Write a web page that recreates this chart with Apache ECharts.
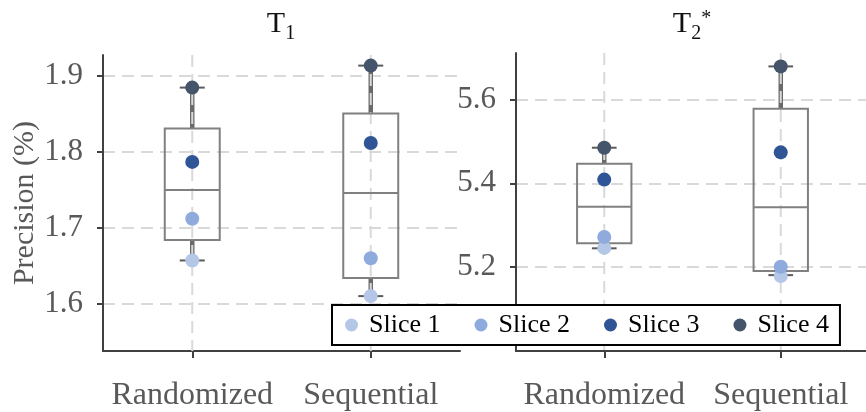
<!DOCTYPE html>
<html>
<head>
<meta charset="utf-8">
<script src="https://cdn.jsdelivr.net/npm/echarts@6/dist/echarts.min.js"></script>
<style>html,body{margin:0;padding:0;background:#fff}#c{width:866px;height:412px}</style>
</head>
<body>
<div id="c"></div>
<script>
const categories = ['Randomized', 'Sequential'];
const sliceNames = ['Slice 1', 'Slice 2', 'Slice 3', 'Slice 4'];
// T1 slice values (Randomized, Sequential)
const t1Slice1 = [1.657, 1.610];
const t1Slice2 = [1.712, 1.660];
const t1Slice3 = [1.787, 1.812];
const t1Slice4 = [1.885, 1.914];
// T2* slice values
const t2Slice1 = [5.246, 5.179];
const t2Slice2 = [5.272, 5.201];
const t2Slice3 = [5.409, 5.474];
const t2Slice4 = [5.485, 5.679];
// box stats: [min, q1, median, q3, max]
const t1BoxRandomized = [1.657, 1.684, 1.750, 1.831, 1.885];
const t1BoxSequential = [1.610, 1.634, 1.746, 1.851, 1.914];
const t2BoxRandomized = [5.245, 5.257, 5.344, 5.447, 5.485];
const t2BoxSequential = [5.181, 5.191, 5.343, 5.578, 5.679];
// tick labels
const t1Ticks = [1.6, 1.7, 1.8, 1.9];
const t2Ticks = [5.2, 5.4, 5.6];

const FONT = 'Liberation Serif';
const sliceColors = ['#B4C7E7', '#8FAADC', '#2F5597', '#44546A'];
const axisColor = '#404040';
const labelColor = '#595959';
const gridColor = '#d9d9d9';

function boxRender(params, api) {
  const x = api.value(0);
  const vMin = api.value(1), q1 = api.value(2), med = api.value(3), q3 = api.value(4), vMax = api.value(5);
  const pMin = api.coord([x, vMin]);
  const pQ1 = api.coord([x, q1]);
  const pMed = api.coord([x, med]);
  const pQ3 = api.coord([x, q3]);
  const pMax = api.coord([x, vMax]);
  const band = api.size([1, 0])[0];
  const bw = band * 0.308;
  const cw = band * 0.14;
  const cx = pMed[0];
  const cs = params.coordSys;
  return {
    type: 'group',
    children: [
      { type: 'line', shape: { x1: cx, y1: pQ3[1], x2: cx, y2: pMax[1] }, style: { stroke: '#6a6a6a', lineWidth: 4.5 } },
      { type: 'line', shape: { x1: cx, y1: pQ1[1], x2: cx, y2: pMin[1] }, style: { stroke: '#6a6a6a', lineWidth: 4.5 } },
      { type: 'line', shape: { x1: cx, y1: cs.y, x2: cx, y2: cs.y + cs.height }, style: { stroke: gridColor, lineWidth: 2, lineDash: [12, 7] } },
      { type: 'rect', shape: { x: cx - bw / 2, y: pQ3[1], width: bw, height: pQ1[1] - pQ3[1] }, style: { fill: 'none', stroke: '#808080', lineWidth: 2 } },
      { type: 'line', shape: { x1: cx - bw / 2, y1: pMed[1], x2: cx + bw / 2, y2: pMed[1] }, style: { stroke: '#808080', lineWidth: 2 } },
      { type: 'line', shape: { x1: cx - cw / 2, y1: pMax[1], x2: cx + cw / 2, y2: pMax[1] }, style: { stroke: '#5a5a5a', lineWidth: 2 } },
      { type: 'line', shape: { x1: cx - cw / 2, y1: pMin[1], x2: cx + cw / 2, y2: pMin[1] }, style: { stroke: '#5a5a5a', lineWidth: 2 } }
    ]
  };
}

function xAxisCfg(gi) {
  return {
    type: 'category', gridIndex: gi, data: categories, boundaryGap: true,
    axisLine: { show: true, lineStyle: { color: axisColor, width: 2 } },
    axisTick: { show: true, alignWithLabel: true, length: 7, lineStyle: { color: axisColor, width: 2 } },
    axisLabel: { fontFamily: FONT, fontSize: 32, color: labelColor, margin: 29, interval: 0, hideOverlap: false },
    splitLine: { show: false }
  };
}
function yAxisCfg(gi, min, max, ticks, name) {
  return {
    type: 'value', gridIndex: gi, min: min, max: max,
    name: name || '', nameLocation: 'middle', nameGap: 63,
    nameTextStyle: { fontFamily: FONT, fontSize: 30, color: labelColor },
    axisLine: { show: true, lineStyle: { color: axisColor, width: 2 } },
    axisTick: { show: true, length: 6, customValues: ticks, lineStyle: { color: axisColor, width: 2 } },
    axisLabel: { fontFamily: FONT, fontSize: 31, color: labelColor, margin: 20, customValues: ticks,
      padding: [5, 0, 0, 0], formatter: v => Number(v).toFixed(1) },
    splitLine: { show: true, lineStyle: { color: gridColor, width: 2, type: [12, 7] } }
  };
}

const t1Slices = [t1Slice1, t1Slice2, t1Slice3, t1Slice4];
const t2Slices = [t2Slice1, t2Slice2, t2Slice3, t2Slice4];

const series = [
  { type: 'custom', name: 'boxT1', xAxisIndex: 0, yAxisIndex: 0, z: 2, renderItem: boxRender,
    encode: { x: 0, y: [1, 2, 3, 4, 5] },
    data: [[0].concat(t1BoxRandomized), [1].concat(t1BoxSequential)] },
  { type: 'custom', name: 'boxT2', xAxisIndex: 1, yAxisIndex: 1, z: 2, renderItem: boxRender,
    encode: { x: 0, y: [1, 2, 3, 4, 5] },
    data: [[0].concat(t2BoxRandomized), [1].concat(t2BoxSequential)] }
];
sliceNames.forEach((nm, i) => {
  series.push({ type: 'scatter', name: nm, xAxisIndex: 0, yAxisIndex: 0, z: 3, symbolSize: 14,
    itemStyle: { color: sliceColors[i], opacity: 1 },
    data: categories.map((c, j) => [c, t1Slices[i][j]]) });
  series.push({ type: 'scatter', name: nm, xAxisIndex: 1, yAxisIndex: 1, z: 3, symbolSize: 14,
    itemStyle: { color: sliceColors[i], opacity: 1 },
    data: categories.map((c, j) => [c, t2Slices[i][j]]) });
});

const titleRich = {
  t: { fontFamily: FONT, fontSize: 30, fontWeight: 'normal', color: '#111', lineHeight: 30, verticalAlign: 'top' },
  s: { fontFamily: FONT, fontSize: 20, fontWeight: 'normal', color: '#111', lineHeight: 20, verticalAlign: 'top', padding: [15, 0, 0, 0] },
  p: { fontFamily: FONT, fontSize: 20, fontWeight: 'normal', color: '#111', lineHeight: 20, verticalAlign: 'top' }
};

const option = {
  animation: false,
  backgroundColor: '#fff',
  title: [
    { text: '{t|T}{s|1}', left: 281, top: 9, padding: 0, textAlign: 'center', textStyle: { fontWeight: 'normal', rich: titleRich } },
    { text: '{t|T}{s|2}{p|*}', left: 692, top: 9, padding: 0, textAlign: 'center', textStyle: { fontWeight: 'normal', rich: titleRich } }
  ],
  legend: {
    data: sliceNames, left: 332, top: 305, orient: 'horizontal',
    padding: [7, 11, 7, 13], itemGap: 34, itemWidth: 13, itemHeight: 13, icon: 'circle',
    backgroundColor: '#fff', borderColor: '#000', borderWidth: 2, borderRadius: 0,
    textStyle: { fontFamily: FONT, fontSize: 26, color: '#000', lineHeight: 26, padding: [0, 0, 0, 6] },
    selectedMode: false
  },
  grid: [
    { left: 103, top: 55, width: 357, height: 296, outerBoundsMode: 'none', containLabel: false },
    { left: 516, top: 53, width: 353, height: 298, outerBoundsMode: 'none', containLabel: false }
  ],
  xAxis: [xAxisCfg(0), xAxisCfg(1)],
  yAxis: [
    yAxisCfg(0, 1.5376, 1.928, t1Ticks, 'Precision (%)'),
    yAxisCfg(1, 5.0, 5.711, t2Ticks, '')
  ],
  series: series
};

const chart = echarts.init(document.getElementById('c'), null, { renderer: 'canvas' });
chart.setOption(option);
</script>
</body>
</html>
